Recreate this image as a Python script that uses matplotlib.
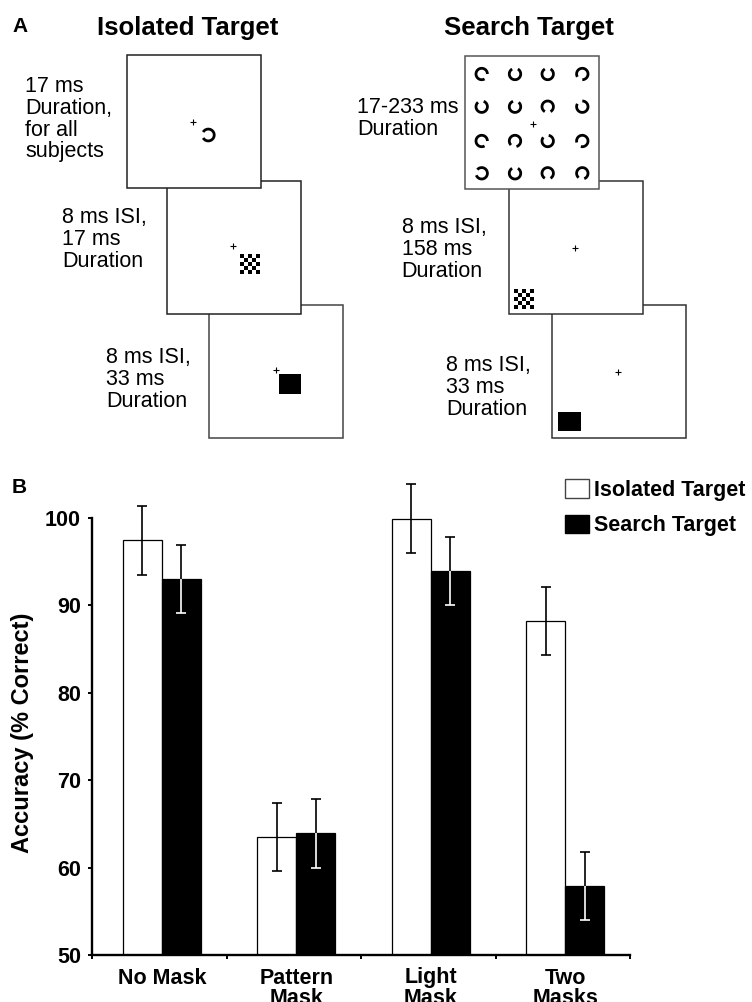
import numpy as np
import matplotlib
matplotlib.use("Agg")
import matplotlib.pyplot as plt
from matplotlib.patches import Rectangle, Arc, Patch

plt.rcParams['font.family'] = ['Liberation Sans', 'DejaVu Sans']

# bar chart data (panel B)
conditions = ["No Mask", "Pattern\nMask", "Light\nMask", "Two\nMasks"]
isolated = [97.4, 63.5, 99.9, 88.2]
search = [93.0, 63.9, 93.9, 57.9]
isolated_err = [3.9, 3.9, 3.9, 3.9]
search_err = [3.9, 3.9, 3.9, 3.9]
yticks = [50, 60, 70, 80, 90, 100]

# panel A: gap direction (deg, counter-clockwise from right) of the 4x4 search array
search_gaps = [[330, 90, 90, 240],
               [100, 80, 270, 120],
               [330, 255, 110, 225],
               [170, 90, 270, 260]]
isolated_gap = 180

W, H = 752, 1002
fig = plt.figure(figsize=(W / 100, H / 100), dpi=100)

# ---------- panel A, drawn in pixel coordinates ----------
ax0 = fig.add_axes([0, 0, 1, 1])
ax0.set_xlim(0, W)
ax0.set_ylim(H, 0)
ax0.axis('off')


def frame(x, y, z, ec='#222222'):
    ax0.add_patch(Rectangle((x, y), 134, 133, facecolor='white', edgecolor=ec, lw=1.1, zorder=z))


def landolt(cx, cy, gap, z, r=5.7):
    # y axis is inverted, so screen angles turn the other way
    a = -gap
    ax0.add_patch(Arc((cx, cy), 2 * r, 2 * r, theta1=a + 30, theta2=a + 330,
                      lw=2.0, color='k', zorder=z))


def cross(x, y, z):
    ax0.plot([x], [y], marker='+', ms=4.5, mew=0.8, color='k', zorder=z)


def checker(x, y, z, n=5, s=4):
    for i in range(n):
        for j in range(n):
            if (i + j) % 2 == 0:
                ax0.add_patch(Rectangle((x + i * s, y + j * s), s, s, facecolor='k', lw=0, zorder=z))


def block(x, y, w, h, z):
    ax0.add_patch(Rectangle((x, y), w, h, facecolor='k', lw=0, zorder=z))


txt = dict(fontsize=15.5, va='top', ha='left', linespacing=1.05)

ax0.text(12, 17, "A", fontsize=15, fontweight='bold', va='top')
ax0.text(188, 16, "Isolated Target", fontsize=18.5, fontweight='bold', ha='center', va='top')
ax0.text(528.5, 16, "Search Target", fontsize=18.5, fontweight='bold', ha='center', va='top')

# isolated target sequence
frame(126.7, 55, 3)
cross(193.3, 121.5, 3.5)
landolt(208.3, 135, isolated_gap, 3.5, r=5.9)
frame(166.5, 180.5, 2)
cross(233.3, 246, 2.5)
checker(239.5, 253.5, 2.5)
frame(209.3, 305, 1, ec='#444444')
cross(276, 370, 1.5)
block(279.3, 374, 22, 20, 1.5)

ax0.text(25, 76, "17 ms\nDuration,\nfor all\nsubjects", **txt)
ax0.text(62, 207, "8 ms ISI,\n17 ms\nDuration", **txt)
ax0.text(106, 347, "8 ms ISI,\n33 ms\nDuration", **txt)

# search target sequence
frame(465, 56, 3, ec='#555555')
col_x = [481.7, 515, 547.7, 582.3]
row_y = [74, 106.7, 141, 173.3]
for r, yy in enumerate(row_y):
    for c, xx in enumerate(col_x):
        landolt(xx, yy, search_gaps[r][c], 3.5)
cross(532.7, 124.3, 3.5)
frame(508.7, 180.5, 2, ec='#333333')
cross(575, 247.7, 2.5)
checker(513.5, 288.5, 2.5)
frame(551.7, 305, 1, ec='#333333')
cross(618.3, 372.3, 1.5)
block(558.3, 411.7, 22.4, 19, 1.5)

ax0.text(357, 97, "17-233 ms\nDuration", **txt)
ax0.text(401.5, 217, "8 ms ISI,\n158 ms\nDuration", **txt)
ax0.text(446, 355, "8 ms ISI,\n33 ms\nDuration", **txt)

ax0.text(12, 478, "B", fontsize=15, fontweight='bold', va='top')

# ---------- panel B, bar chart ----------
ax = fig.add_axes([92 / W, 47 / H, 538 / W, 437.3 / H])
x = np.arange(len(conditions)) + 0.52
bw = 0.29

b1 = ax.bar(x - bw / 2, isolated, bw, color='white', edgecolor='k', lw=0.9,
            label='Isolated Target', zorder=2)
b2 = ax.bar(x + bw / 2, search, bw, color='k', edgecolor='k', lw=0.9,
            label='Search Target', zorder=2)

ekw = dict(fmt='none', ecolor='k', elinewidth=1.2, capsize=3.6, capthick=1.2, zorder=3)
for xs, vals, errs in [(x - bw / 2, isolated, isolated_err), (x + bw / 2, search, search_err)]:
    eb = ax.errorbar(xs, vals, yerr=errs, **ekw)
    for art in eb.get_children():
        art.set_clip_on(False)

# white part of the error bar inside the black bars
for xi, v, e, patch in zip(x + bw / 2, search, search_err, b2.patches):
    eb = ax.errorbar([xi], [v], yerr=[e], fmt='none', ecolor='white', elinewidth=1.2,
                     capsize=3.6, capthick=1.2, zorder=4)
    for art in eb.get_children():
        art.set_clip_path(patch)

ax.set_xlim(0, 4)
ax.set_ylim(50, 100)
ax.set_yticks(yticks)
ax.set_yticklabels([str(t) for t in yticks], fontsize=15.5, fontweight='bold')
ax.set_xticks([0, 1, 2, 3, 4])
ax.set_xticklabels([])
ax.set_xticks(x, minor=True)
ax.set_xticklabels(conditions, minor=True, fontsize=15.5, fontweight='bold', linespacing=0.95)
ax.tick_params(axis='x', which='minor', length=0, pad=9)
ax.tick_params(axis='both', which='major', direction='out', length=3, width=1.4)
ax.tick_params(axis='y', pad=5)
for s in ['top', 'right']:
    ax.spines[s].set_visible(False)
for s in ['left', 'bottom']:
    ax.spines[s].set_linewidth(1.7)

ax.set_ylabel("Accuracy (% Correct)", fontsize=17, fontweight='bold')
ax.yaxis.set_label_coords(-0.108, 0.507)

handles = [Patch(facecolor='white', edgecolor='#444444', lw=1.0, label='Isolated Target'),
           Patch(facecolor='k', edgecolor='k', label='Search Target')]
leg = ax.legend(handles=handles, loc='upper left', bbox_to_anchor=(564.7 / W, 1 - 479 / H),
                bbox_transform=fig.transFigure, frameon=False, borderpad=0, borderaxespad=0,
                handlelength=1.14, handleheight=0.96, handletextpad=0.2, labelspacing=0.65,
                prop={'size': 15.5, 'weight': 'bold'})

fig.savefig("out.png", dpi=100)
